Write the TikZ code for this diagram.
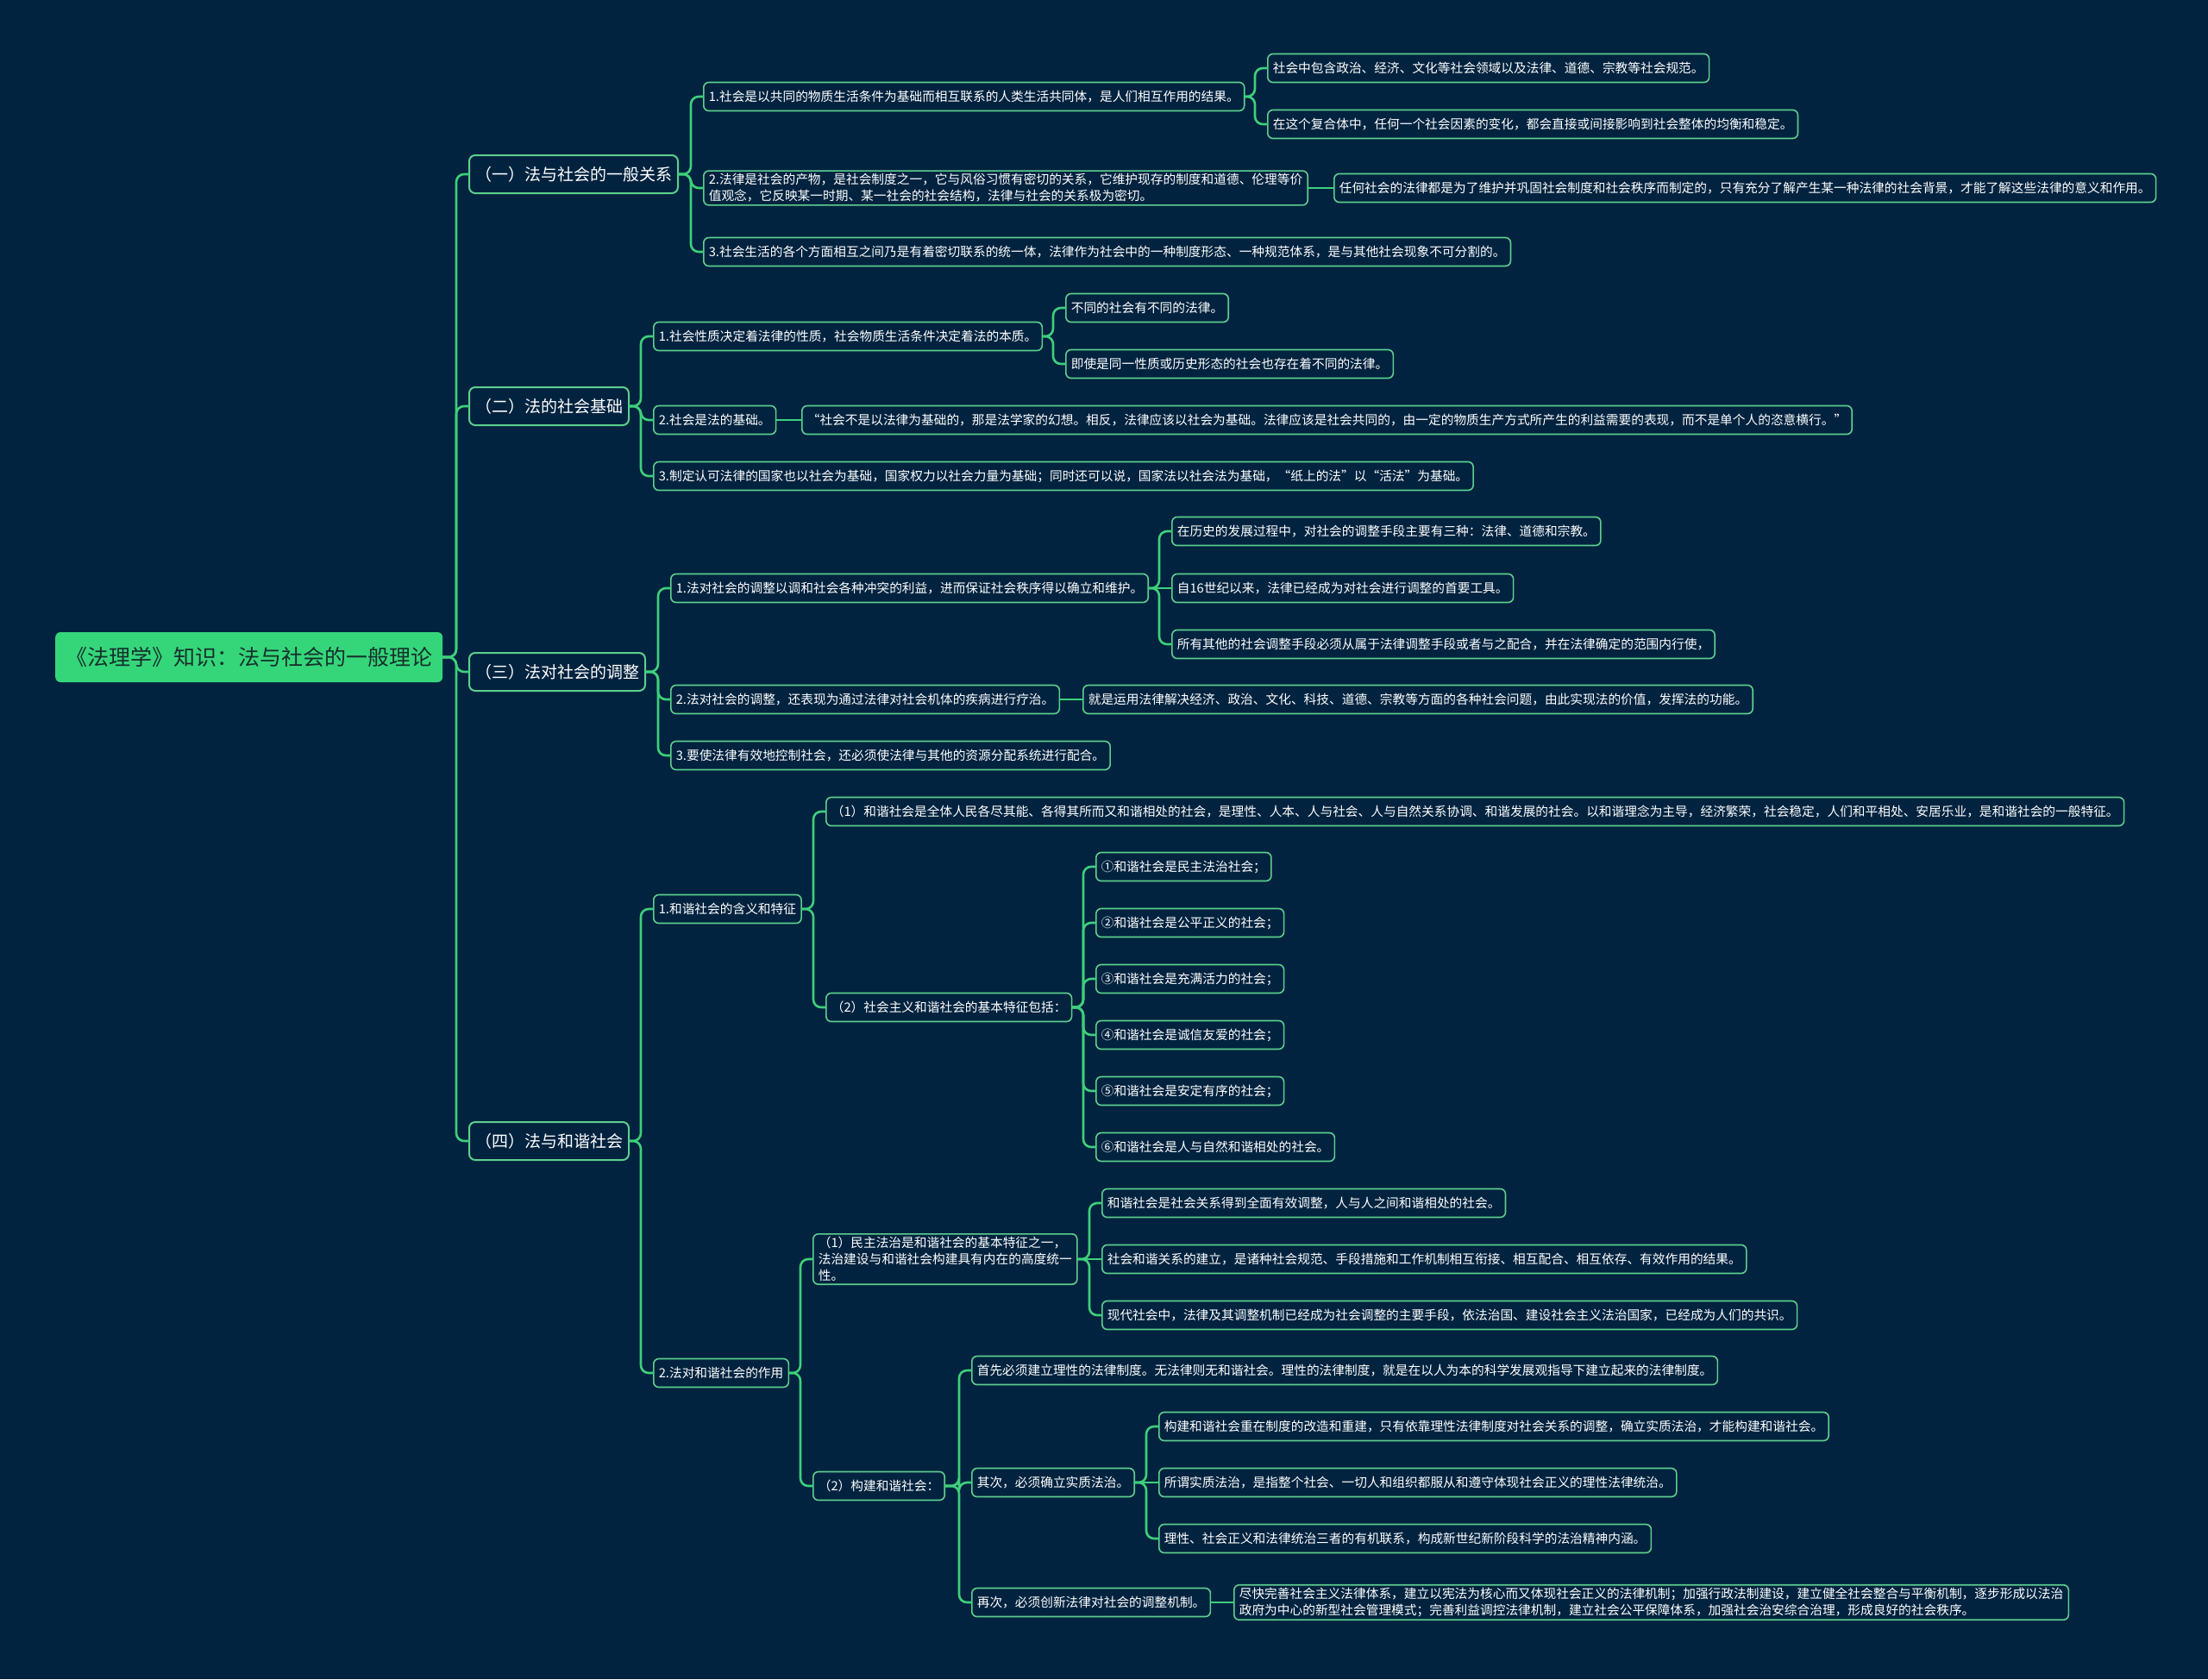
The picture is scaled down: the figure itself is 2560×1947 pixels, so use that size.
\documentclass[tikz,border=0pt]{standalone}
\usepackage{fontspec}
\setmainfont{Noto Sans CJK SC}
\definecolor{bgnavy}{RGB}{2,35,63}
\definecolor{linegreen}{RGB}{62,207,122}
\definecolor{boxgreen}{RGB}{92,206,142}
\definecolor{rootgreen}{RGB}{53,214,122}
\definecolor{rootink}{RGB}{22,48,44}

\begin{document}
\begin{tikzpicture}[x=1pt, y=-1pt, line join=round, line cap=round,
  root/.style={anchor=west, fill=rootgreen, rounded corners=6pt, text=rootink,
    font=\fontsize{25}{30}\selectfont, minimum height=58pt, inner xsep=12pt},
  sect/.style={anchor=west, draw=boxgreen, line width=2pt, fill=bgnavy, rounded corners=7pt,
    text=white, font=\fontsize{19}{23}\selectfont, minimum height=44pt, inner xsep=7pt},
  leaf/.style={anchor=west, draw=boxgreen, line width=1.6pt, fill=bgnavy, rounded corners=6pt,
    text=white, font=\fontsize{14.7}{19}\selectfont, minimum height=33pt, inner xsep=6pt,
    align=left},
  link/.style={draw=linegreen, line width=2.6pt, rounded corners=9pt}]
\fill[bgnavy] (0,0) rectangle (2560,1947);
\useasboundingbox (0,0) rectangle (2560,1947);

% root and sections
\node[root] (root) at (64,762) {《法理学》知识：法与社会的一般理论};
\node[sect] (s1) at (543,202) {（一）法与社会的一般关系};
\node[sect] (s2) at (543,471) {（二）法的社会基础};
\node[sect] (s3) at (543,779) {（三）法对社会的调整};
\node[sect] (s4) at (543,1323) {（四）法与和谐社会};

% (一)
\node[leaf] (s1a) at (815,112) {1.社会是以共同的物质生活条件为基础而相互联系的人类生活共同体，是人们相互作用的结果。};
\node[leaf] (s1b) at (815,218) {2.法律是社会的产物，是社会制度之一，它与风俗习惯有密切的关系，它维护现存的制度和道德、伦理等价\\值观念，它反映某一时期、某一社会的社会结构，法律与社会的关系极为密切。};
\node[leaf] (s1c) at (815,292) {3.社会生活的各个方面相互之间乃是有着密切联系的统一体，法律作为社会中的一种制度形态、一种规范体系，是与其他社会现象不可分割的。};
\node[leaf] (s1a1) at (1469,79) {社会中包含政治、经济、文化等社会领域以及法律、道德、宗教等社会规范。};
\node[leaf] (s1a2) at (1469,144) {在这个复合体中，任何一个社会因素的变化，都会直接或间接影响到社会整体的均衡和稳定。};
\node[leaf] (s1b1) at (1546,218) {任何社会的法律都是为了维护并巩固社会制度和社会秩序而制定的，只有充分了解产生某一种法律的社会背景，才能了解这些法律的意义和作用。};

% (二)
\node[leaf] (s2a) at (757,390) {1.社会性质决定着法律的性质，社会物质生活条件决定着法的本质。};
\node[leaf] (s2b) at (757,487) {2.社会是法的基础。};
\node[leaf] (s2c) at (757,552) {3.制定认可法律的国家也以社会为基础，国家权力以社会力量为基础；同时还可以说，国家法以社会法为基础，“纸上的法”以“活法”为基础。};
\node[leaf] (s2a1) at (1235,357) {不同的社会有不同的法律。};
\node[leaf] (s2a2) at (1235,422) {即使是同一性质或历史形态的社会也存在着不同的法律。};
\node[leaf] (s2b1) at (929,487) {“社会不是以法律为基础的，那是法学家的幻想。相反，法律应该以社会为基础。法律应该是社会共同的，由一定的物质生产方式所产生的利益需要的表现，而不是单个人的恣意横行。”};

% (三)
\node[leaf] (s3a) at (777,682) {1.法对社会的调整以调和社会各种冲突的利益，进而保证社会秩序得以确立和维护。};
\node[leaf] (s3b) at (777,811) {2.法对社会的调整，还表现为通过法律对社会机体的疾病进行疗治。};
\node[leaf] (s3c) at (777,876) {3.要使法律有效地控制社会，还必须使法律与其他的资源分配系统进行配合。};
\node[leaf] (s3a1) at (1358,616) {在历史的发展过程中，对社会的调整手段主要有三种：法律、道德和宗教。};
\node[leaf] (s3a2) at (1358,682) {自16世纪以来，法律已经成为对社会进行调整的首要工具。};
\node[leaf] (s3a3) at (1358,747) {所有其他的社会调整手段必须从属于法律调整手段或者与之配合，并在法律确定的范围内行使，};
\node[leaf] (s3b1) at (1255,811) {就是运用法律解决经济、政治、文化、科技、道德、宗教等方面的各种社会问题，由此实现法的价值，发挥法的功能。};

% (四)
\node[leaf] (s4a) at (757,1054) {1.和谐社会的含义和特征};
\node[leaf] (s4b) at (757,1592) {2.法对和谐社会的作用};
\node[leaf] (s4a1) at (957,941) {（1）和谐社会是全体人民各尽其能、各得其所而又和谐相处的社会，是理性、人本、人与社会、人与自然关系协调、和谐发展的社会。以和谐理念为主导，经济繁荣，社会稳定，人们和平相处、安居乐业，是和谐社会的一般特征。};
\node[leaf] (s4a2) at (957,1168) {（2）社会主义和谐社会的基本特征包括：};
\node[leaf] (h1) at (1270,1005) {①和谐社会是民主法治社会；};
\node[leaf] (h2) at (1270,1070) {②和谐社会是公平正义的社会；};
\node[leaf] (h3) at (1270,1135) {③和谐社会是充满活力的社会；};
\node[leaf] (h4) at (1270,1200) {④和谐社会是诚信友爱的社会；};
\node[leaf] (h5) at (1270,1265) {⑤和谐社会是安定有序的社会；};
\node[leaf] (h6) at (1270,1330) {⑥和谐社会是人与自然和谐相处的社会。};
\node[leaf] (s4b1) at (942,1460) {（1）民主法治是和谐社会的基本特征之一，\\法治建设与和谐社会构建具有内在的高度统一\\性。};
\node[leaf] (s4b2) at (942,1723) {（2）构建和谐社会：};
\node[leaf] (s4b1a) at (1277,1395) {和谐社会是社会关系得到全面有效调整，人与人之间和谐相处的社会。};
\node[leaf] (s4b1b) at (1277,1460) {社会和谐关系的建立，是诸种社会规范、手段措施和工作机制相互衔接、相互配合、相互依存、有效作用的结果。};
\node[leaf] (s4b1c) at (1277,1525) {现代社会中，法律及其调整机制已经成为社会调整的主要手段，依法治国、建设社会主义法治国家，已经成为人们的共识。};
\node[leaf] (s4b2a) at (1126,1589) {首先必须建立理性的法律制度。无法律则无和谐社会。理性的法律制度，就是在以人为本的科学发展观指导下建立起来的法律制度。};
\node[leaf] (s4b2b) at (1126,1719) {其次，必须确立实质法治。};
\node[leaf] (s4b2c) at (1126,1858) {再次，必须创新法律对社会的调整机制。};
\node[leaf] (s4b2b1) at (1343,1654) {构建和谐社会重在制度的改造和重建，只有依靠理性法律制度对社会关系的调整，确立实质法治，才能构建和谐社会。};
\node[leaf] (s4b2b2) at (1343,1719) {所谓实质法治，是指整个社会、一切人和组织都服从和遵守体现社会正义的理性法律统治。};
\node[leaf] (s4b2b3) at (1343,1784) {理性、社会正义和法律统治三者的有机联系，构成新世纪新阶段科学的法治精神内涵。};
\node[leaf] (s4b2c1) at (1430,1858) {尽快完善社会主义法律体系，建立以宪法为核心而又体现社会正义的法律机制；加强行政法制建设，建立健全社会整合与平衡机制，逐步形成以法治\\政府为中心的新型社会管理模式；完善利益调控法律机制，建立社会公平保障体系，加强社会治安综合治理，形成良好的社会秩序。};

% links: parent/child, elbow
\foreach \p/\c in {root/s1, root/s2, root/s3, root/s4,
    s1/s1a, s1/s1b, s1/s1c, s1a/s1a1, s1a/s1a2,
    s2/s2a, s2/s2b, s2/s2c, s2a/s2a1, s2a/s2a2,
    s3/s3a, s3/s3b, s3/s3c, s3a/s3a1, s3a/s3a3,
    s4/s4a, s4/s4b, s4a/s4a1, s4a/s4a2,
    s4a2/h1, s4a2/h2, s4a2/h3, s4a2/h4, s4a2/h5, s4a2/h6,
    s4b/s4b1, s4b/s4b2, s4b1/s4b1a, s4b1/s4b1c,
    s4b2/s4b2a, s4b2/s4b2b, s4b2/s4b2c,
    s4b2b/s4b2b1, s4b2b/s4b2b3}
  \draw[link] (\p.east) -| ([xshift=-14pt]\c.west) -- (\c.west);
% links: straight
\foreach \p/\c in {s1b/s1b1, s2b/s2b1, s3a/s3a2, s3b/s3b1,
    s4b1/s4b1b, s4b2b/s4b2b2, s4b2c/s4b2c1}
  \draw[link] (\p.east) -- (\c.west);
\end{tikzpicture}
\end{document}
